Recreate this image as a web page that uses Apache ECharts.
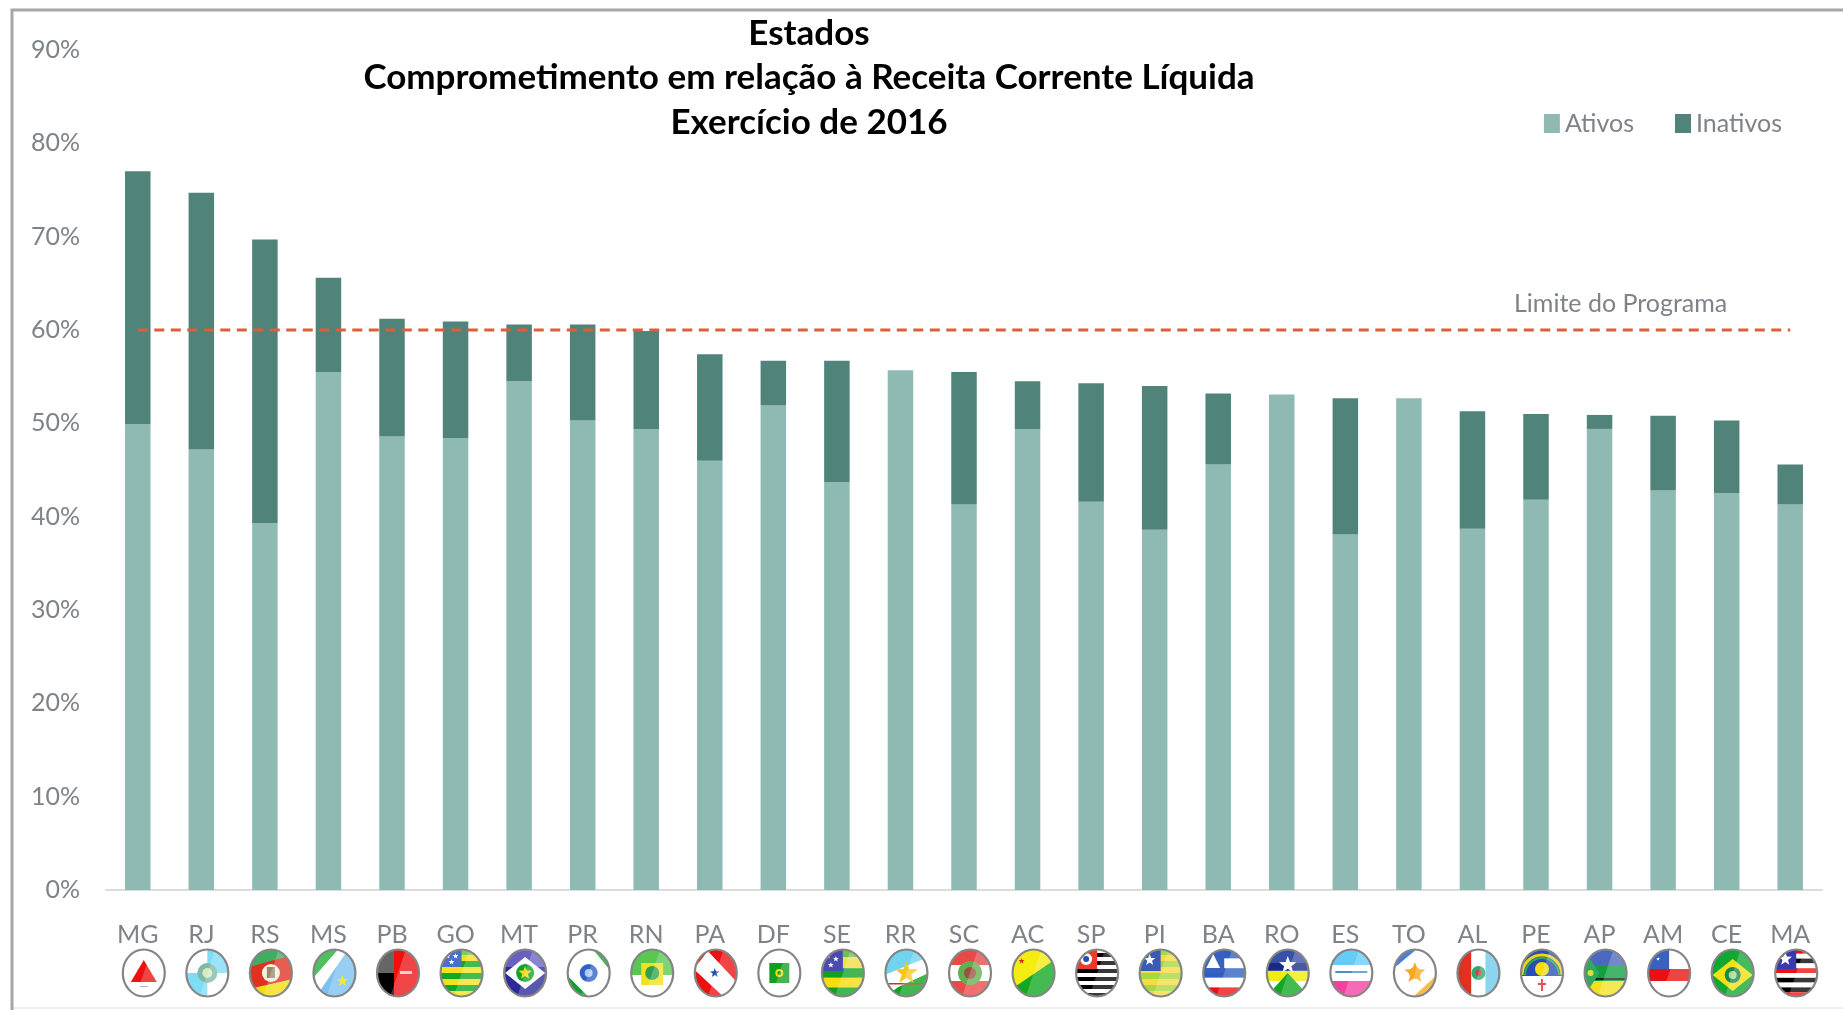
<!DOCTYPE html>
<html>
<head>
<meta charset="utf-8">
<title>Comprometimento em relação à Receita Corrente Líquida</title>
<script src="https://cdn.jsdelivr.net/npm/echarts@6/dist/echarts.min.js"></script>
<style>
html, body { margin: 0; padding: 0; background: #fff; }
#chart { width: 1843px; height: 1010px; }
</style>
</head>
<body>
<div id="chart"></div>
<script>
var estados = ['MG','RJ','RS','MS','PB','GO','MT','PR','RN','PA','DF','SE','RR','SC','AC','SP','PI','BA','RO','ES','TO','AL','PE','AP','AM','CE','MA'];
var ativos = [49.9,47.2,39.3,55.5,48.6,48.4,54.5,50.3,49.4,46.0,51.9,43.7,55.7,41.3,49.4,41.6,38.6,45.6,53.1,38.1,52.7,38.7,41.8,49.4,42.8,42.5,41.3];
var inativos = [27.1,27.5,30.4,10.1,12.6,12.5,6.1,10.3,10.5,11.4,4.8,13.0,0,14.2,5.1,12.7,15.4,7.6,0,14.6,0,12.6,9.2,1.5,8.0,7.8,4.3];
var limite = [60,60,60,60,60,60,60,60,60,60,60,60,60,60,60,60,60,60,60,60,60,60,60,60,60,60,60];
var eixoMax = 90;
var tituloLinhas = ['Estados','Comprometimento em relação à Receita Corrente Líquida','Exercício de 2016'];

var FONTE = 'Lato, "Liberation Sans", sans-serif';
var CINZA = '#7d8388';

// bandeiras: desenho simples dentro de um oval de 44x48
function r(x, y, w, h, c) {
    return '<rect x="'+x+'" y="'+y+'" width="'+w+'" height="'+h+'" fill="'+c+'"/>';
}
function p(pts, c) {
    return '<polygon points="'+pts+'" fill="'+c+'"/>';
}
function o(cx, cy, rad, c) {
    return '<circle cx="'+cx+'" cy="'+cy+'" r="'+rad+'" fill="'+c+'"/>';
}
function estrela(cx, cy, rad, c) {
    var pts = [];
    for (var i = 0; i < 10; i++) {
        var a = -Math.PI / 2 + i * Math.PI / 5;
        var k = i % 2 ? rad * 0.42 : rad;
        pts.push((cx + k * Math.cos(a)).toFixed(1) + ',' + (cy + k * Math.sin(a)).toFixed(1));
    }
    return p(pts.join(' '), c);
}
function listras(y0, h, cores) {
    var s = '';
    for (var i = 0; i < cores.length; i++) {
        s += r(0, y0 + i * h, 44, h, cores[i]);
    }
    return s;
}
var bandeiras = {
    MG: r(0,0,44,48,'#fff') + p('22,11 35,33 9,33','#ee1111') + r(18,37,8,1,'#999'),
    RJ: r(0,0,44,48,'#fff') + r(22,0,22,24,'#7fdcf5') + r(0,24,22,24,'#7fdcf5') + o(22,24,10,'#7fb8a8') + o(22,24,5,'#d8e8c0'),
    RS: r(0,0,44,48,'#3fae60') + p('0,18 44,6 44,30 0,40','#e03020') + p('0,40 44,30 44,48 0,48','#f5dc10') + o(22,24,9,'#f4f0e4') + r(18,18,8,11,'#9a8a6a'),
    MS: r(0,0,44,48,'#4fbf60') + p('44,0 44,48 0,48 0,36 30,0','#7cc0f0') + p('26,0 36,0 6,44 0,38 0,30','#fff') + estrela(30,32,6,'#f5dc10'),
    PB: r(0,0,18,24,'#666') + r(0,24,18,24,'#000') + r(18,0,26,48,'#ee1111') + r(24,22,12,3,'#f4c0c0'),
    GO: listras(0,6,['#7bd050','#f5e020','#10a820','#f5e020','#10a820','#f5e020','#10a820','#f5e020']) + r(0,0,22,18,'#4a6fc8') + estrela(8,7,3,'#fff') + estrela(16,7,3,'#fff') + estrela(12,13,3,'#fff'),
    MT: r(0,0,44,48,'#2a2a9a') + r(0,0,44,18,'#6a60c0') + p('22,8 42,24 22,40 2,24','#fff') + o(22,24,9,'#10a030') + estrela(22,24,7,'#f5dc10'),
    PR: r(0,0,44,48,'#fff') + p('26,0 44,0 44,22','#10a030') + p('0,26 22,48 0,48','#10a030') + o(22,24,9,'#3060c8') + o(22,24,4,'#b0c8f0'),
    RN: r(0,0,44,26,'#58c850') + r(0,26,44,22,'#fff') + r(11,14,22,22,'#f0e020') + o(22,24,7,'#30a050'),
    PA: r(0,0,44,48,'#ee1111') + p('0,20 14,2 44,34 30,48','#fff') + estrela(21,24,5,'#2050b0'),
    DF: r(0,0,44,48,'#fff') + r(12,14,20,20,'#10a020') + o(22,24,4,'#f5dc10') + o(22,24,2,'#10a020'),
    SE: listras(0,9.6,['#f5dc40','#f5dc40','#10a020','#f5dc10','#10a020']) + r(0,0,22,22,'#4a4ab0') + estrela(7,7,3,'#fff') + estrela(15,10,3,'#fff') + estrela(10,16,3,'#fff') + r(22,0,22,8,'#70c050'),
    RR: r(0,0,44,48,'#fff') + p('0,0 44,0 44,8 0,26','#70d4f0') + p('0,48 44,48 44,24 14,38','#10a020') + estrela(22,24,12,'#f5c820') + r(4,34,34,1.5,'#d03020'),
    SC: listras(0,16,['#e84a4a','#fff','#e84a4a']) + o(22,24,12,'#60b050') + o(22,24,6,'#a05040'),
    AC: r(0,0,44,48,'#f5ec10') + p('0,40 44,10 44,48 0,48','#10a820') + estrela(10,12,3,'#e02020'),
    SP: listras(0,4,['#fff','#000','#fff','#000','#fff','#000','#fff','#000','#fff','#000','#fff','#000']) + r(0,0,22,20,'#ee3a2a') + o(11,10,6,'#fff') + o(11,10,3,'#2050b0'),
    PI: listras(0,6,['#a8d840','#f5dc40','#a8d840','#f5dc40','#a8d840','#f5dc40','#a8d840','#f5dc40']) + r(0,0,22,22,'#3a5ab8') + estrela(11,11,6,'#fff'),
    BA: listras(0,9.6,['#2f5fc0','#fff','#2f5fc0','#fff','#ee1111']) + r(0,0,22,24,'#3a60c0') + p('11,5 18,19 4,19','#fff'),
    RO: r(0,0,44,24,'#3a50a8') + r(0,22,44,10,'#f0ec10') + p('0,48 22,24 44,48','#10a820') + r(0,14,44,7,'#1a2a80') + estrela(22,16,9,'#fff'),
    ES: r(0,0,44,16,'#66ccf5') + r(0,16,44,16,'#fff') + r(0,32,44,16,'#f540a0') + r(6,22,32,2,'#4a90c8'),
    TO: r(0,0,44,48,'#fff') + p('0,0 24,0 0,20','#4a80d8') + p('44,48 20,48 44,26','#f5a820') + o(22,24,6,'#f5a820') + estrela(22,24,11,'#f5a820'),
    AL: r(0,0,15,48,'#e03020') + r(15,0,14,48,'#fff') + r(29,0,15,48,'#6cc8ec') + o(22,24,7,'#30a870') + o(22,24,3,'#d04040'),
    PE: r(0,0,44,27,'#2850b0') + r(0,27,44,21,'#fff') + '<path d="M2 26a20 20 0 0 1 40 0" fill="none" stroke="#f0d020" stroke-width="3"/><path d="M5 26a17 17 0 0 1 34 0" fill="none" stroke="#30a850" stroke-width="2"/>' + o(22,20,7,'#f5dc10') + r(21,30,2,12,'#e02020') + r(18,34,8,2,'#e02020'),
    AP: r(0,0,44,16,'#4a68c0') + r(0,16,44,16,'#10a040') + r(0,32,44,16,'#f5e020') + r(10,29,34,2,'#222') + p('0,0 16,24 0,48','#30a860') + o(7,24,3,'#d8e040'),
    AM: r(0,0,44,20,'#fff') + r(0,0,22,20,'#3a60c0') + r(0,20,44,12,'#e81010') + r(0,32,44,16,'#fff') + estrela(11,10,2,'#fff'),
    CE: r(0,0,44,48,'#10a830') + p('22,10 42,26 22,42 2,26','#f5e010') + o(22,26,8,'#148a50') + o(22,26,4,'#b0d890'),
    MA: listras(0,4.8,['#ee1111','#fff','#000','#fff','#ee1111','#fff','#000','#fff','#000','#ee1111']) + r(0,0,22,20,'#3a3ab0') + estrela(11,10,7,'#fff')
};
// a bandeira fica uns 6px a direita do centro da categoria, como no original
function bandeiraUri(cod) {
    var svg = '<svg xmlns="http://www.w3.org/2000/svg" width="58" height="50" viewBox="-13 -1 58 50">'
        + '<defs><clipPath id="c"><ellipse cx="22" cy="24" rx="21" ry="23.5"/></clipPath></defs>'
        + '<g clip-path="url(#c)">' + bandeiras[cod]
        + '<path d="M30 0H44V48H14Z" fill="#fff" opacity="0.22"/></g>'
        + '<ellipse cx="22" cy="24" rx="21" ry="23.5" fill="none" stroke="#858585" stroke-width="2.2"/></svg>';
    return 'data:image/svg+xml;charset=utf-8,' + encodeURIComponent(svg);
}

var richLabel = {
    cod: { fontFamily: FONTE, fontSize: 25, color: CINZA, height: 26, lineHeight: 26, align: 'center' }
};
estados.forEach(function (e) {
    richLabel['b' + e] = { width: 58, height: 50, lineHeight: 50, align: 'center', backgroundColor: { image: bandeiraUri(e) } };
});

var myChart = echarts.init(document.getElementById('chart'), null, { renderer: 'canvas' });
myChart.setOption({
    backgroundColor: '#fff',
    animation: false,
    title: {
        text: tituloLinhas.join('\n'),
        left: 804,
        top: 6,
        textAlign: 'center',
        textStyle: {
            fontFamily: 'Lato, sans-serif',
            fontSize: 35,
            fontWeight: 'bold',
            color: '#000',
            lineHeight: 44.6
        }
    },
    legend: {
        data: ['Ativos', 'Inativos'],
        right: 56,
        top: 106,
        itemWidth: 16,
        itemHeight: 19,
        itemGap: 41,
        icon: 'rect',
        textStyle: { fontFamily: FONTE, fontSize: 25, color: CINZA, padding: [0, 0, 0, 0] }
    },
    grid: { left: 106, right: 21, top: 50, bottom: 120 },
    xAxis: {
        type: 'category',
        data: estados,
        axisTick: { show: false },
        axisLine: { lineStyle: { color: '#dcdcdc', width: 2 } },
        axisLabel: {
            interval: 0,
            margin: 32,
            formatter: function (v) { return '{cod|' + v + '}\n{b' + v + '|}'; },
            rich: richLabel
        }
    },
    yAxis: {
        type: 'value',
        min: 0,
        max: eixoMax,
        interval: 10,
        splitLine: { show: false },
        axisLine: { show: false },
        axisTick: { show: false },
        axisLabel: {
            formatter: '{value}%',
            margin: 26,
            fontFamily: FONTE,
            fontSize: 25,
            color: CINZA
        }
    },
    series: [
        { name: 'Ativos', type: 'bar', stack: 'total', barWidth: 25.5, data: ativos, itemStyle: { color: '#8fbab3' } },
        { name: 'Inativos', type: 'bar', stack: 'total', barWidth: 25.5, data: inativos, itemStyle: { color: '#508379' } },
        {
            name: 'Limite do Programa',
            type: 'line',
            data: limite,
            symbol: 'none',
            z: 5,
            lineStyle: { color: '#d9603b', width: 3, type: [10, 6.5] }
        }
    ],
    graphic: [
        {
            type: 'text',
            left: 1514,
            top: 291,
            style: { text: 'Limite do Programa', fontFamily: FONTE, fontSize: 25, fill: CINZA }
        },
        {
            type: 'polyline',
            shape: { points: [[12, 1008], [1843, 1008]] },
            style: { fill: null, stroke: '#eeeeee', lineWidth: 2 },
            silent: true
        },
        {
            type: 'polyline',
            shape: { points: [[1843, 10], [12, 10], [12, 1010]] },
            style: { fill: null, stroke: '#a6a6a6', lineWidth: 3 },
            silent: true
        }
    ]
});
</script>
</body>
</html>
